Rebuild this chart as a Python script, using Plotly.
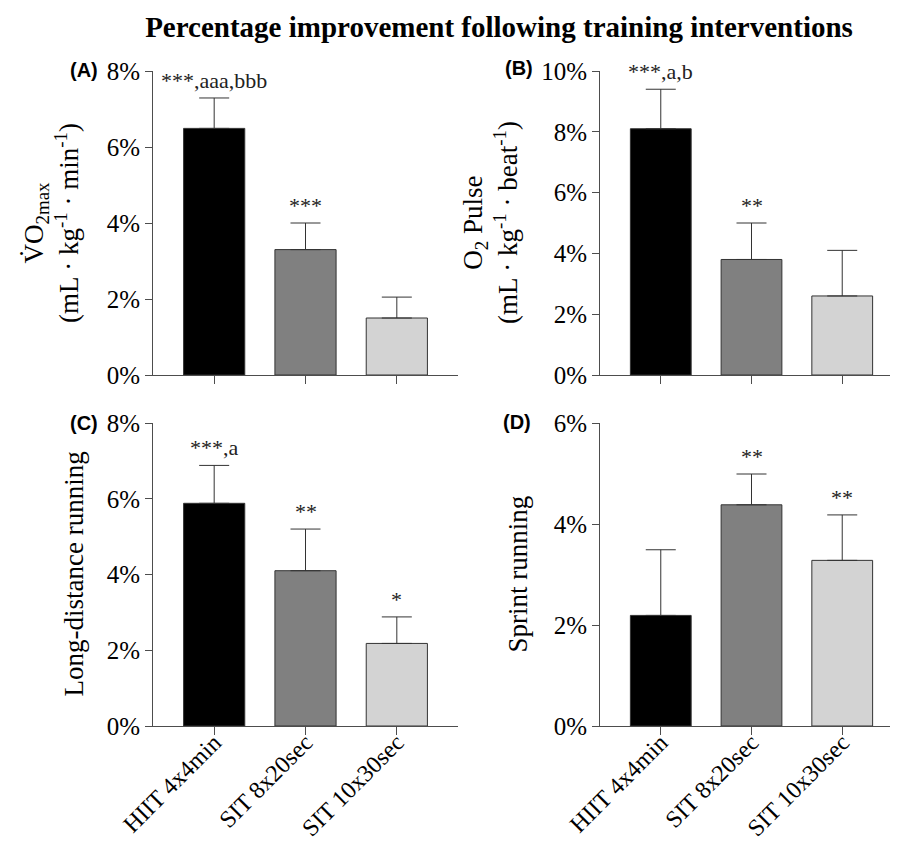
import plotly.graph_objects as go

W, H = 898, 846

categories = ["HIIT 4x4min", "SIT 8x20sec", "SIT 10x30sec"]
bar_colors = ["#000000", "#808080", "#d3d3d3"]

# Panel A: VO2max
vo2_mean = [6.49, 3.3, 1.5]
vo2_err = [0.8, 0.7, 0.55]
vo2_sig = ["***,aaa,bbb", "***", ""]

# Panel B: O2 pulse
o2p_mean = [8.1, 3.8, 2.6]
o2p_err = [1.3, 1.2, 1.5]
o2p_sig = ["***,a,b", "**", ""]

# Panel C: Long-distance running
long_mean = [5.88, 4.1, 2.18]
long_err = [1.0, 1.1, 0.7]
long_sig = ["***,a", "**", "*"]

# Panel D: Sprint running
sprint_mean = [2.19, 4.38, 3.28]
sprint_err = [1.3, 0.61, 0.9]
sprint_sig = ["", "**", "**"]

y_max = [8, 10, 8, 6]
panel_letters = ["(A)", "(B)", "(C)", "(D)"]
y_titles = [
    "V\u0307O<sub>2max</sub><br>(mL · kg<sup>-1</sup> · min<sup>-1</sup>)",
    "O<sub>2</sub> Pulse<br>(mL · kg<sup>-1</sup> · beat<sup>-1</sup>)",
    "Long-distance running",
    "Sprint running",
]
title_text = "Percentage improvement following training interventions"

SERIF = "Liberation Serif"
SANS = "Liberation Sans"
AX = "#4d4d4d"
EDGE = "#333333"


def px_x(v):
    return v / W


def px_y(v):
    return 1 - v / H


# pixel boxes of each plot area: (left, right, top, bottom)
boxes = [(145, 450, 63, 367), (592, 895, 63, 367), (145, 450, 415, 718), (592, 895, 415, 718)]
title_x = [44, 483, 65, 509]
letter_pos = [(76, 62), (511, 60), (76, 415), (509, 414)]

means = [vo2_mean, o2p_mean, long_mean, sprint_mean]
errs = [vo2_err, o2p_err, long_err, sprint_err]
sigs = [vo2_sig, o2p_sig, long_sig, sprint_sig]

fig = go.Figure()
annotations = []
for i in range(4):
    n = "" if i == 0 else str(i + 1)
    xa, ya = "x" + n, "y" + n
    fig.add_trace(go.Bar(
        x=categories, y=means[i], xaxis=xa, yaxis=ya, width=0.67,
        marker=dict(color=bar_colors, line=dict(color=EDGE, width=1)),
        error_y=dict(type="data", symmetric=False, array=errs[i],
                     arrayminus=[0, 0, 0], color=EDGE, thickness=1, width=15),
        showlegend=False, hoverinfo="skip",
    ))
    l, r, t, b = boxes[i]
    bottom_row = i >= 2
    fig.layout["xaxis" + n] = dict(
        domain=[px_x(l), px_x(r)], anchor=ya, range=[-0.67, 2.67],
        type="category", showline=True, linecolor=AX, linewidth=1,
        ticks="outside", ticklen=8, tickcolor=AX, tickwidth=1,
        showticklabels=bottom_row, tickangle=-45, ticklabelstandoff=-16,
        tickfont=dict(family=SERIF, size=24, color="#000000"),
        showgrid=False, zeroline=False, automargin=False, fixedrange=True,
    )
    fig.layout["yaxis" + n] = dict(
        domain=[px_y(b), px_y(t)], anchor=xa, range=[0, y_max[i]],
        dtick=2, ticksuffix="%", showline=True, linecolor=AX, linewidth=1,
        ticks="outside", ticklen=7, tickcolor=AX, tickwidth=1,
        tickfont=dict(family=SERIF, size=25, color="#000000"),
        showgrid=False, zeroline=False, automargin=False, fixedrange=True,
    )
    # significance labels
    for j, s in enumerate(sigs[i]):
        if s:
            annotations.append(dict(
                x=categories[j], y=means[i][j] + errs[i][j], xref=xa, yref=ya,
                text=s, showarrow=False, yanchor="bottom", yshift=3,
                font=dict(family=SERIF, size=22, color="#222222"),
            ))
    # y-axis titles
    annotations.append(dict(
        x=px_x(title_x[i]), y=px_y((t + b) / 2), xref="paper", yref="paper",
        text=y_titles[i], textangle=-90, showarrow=False,
        xanchor="center", yanchor="middle",
        font=dict(family=SERIF, size=27, color="#000000"),
    ))
    # panel letters
    lx, ly = letter_pos[i]
    annotations.append(dict(
        x=px_x(lx), y=px_y(ly), xref="paper", yref="paper",
        text="<b>" + panel_letters[i] + "</b>", showarrow=False,
        xanchor="center", yanchor="middle",
        font=dict(family=SANS, size=20, color="#000000"),
    ))

fig.update_layout(
    width=W, height=H,
    margin=dict(l=0, r=0, t=0, b=0),
    paper_bgcolor="white", plot_bgcolor="white",
    title=dict(text="<b>" + title_text + "</b>", x=491 / W, xanchor="center",
               y=1 - 19 / H, yanchor="middle", yref="container",
               font=dict(family=SERIF, size=29, color="#000000")),
    annotations=annotations,
    bargap=0.33,
)

fig.write_html("out.html")
